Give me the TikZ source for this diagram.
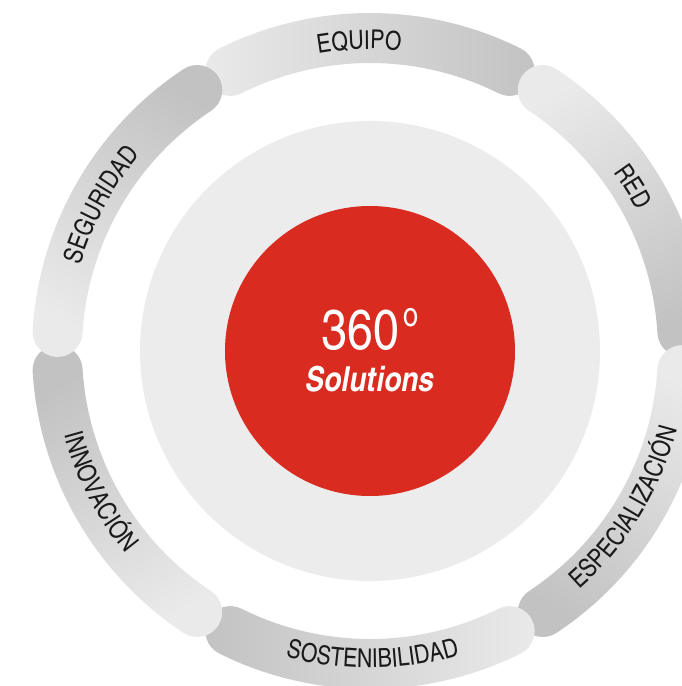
\documentclass[tikz,border=0pt]{standalone}
\usepackage{fontspec}
\usepackage{tikz}
\usetikzlibrary{
	decorations.text,
	positioning,
}

\newfontfamily\heroscn{texgyreheroscn}[
	Extension=.otf,
	UprightFont=*-regular,
	BoldFont=*-bold,
	ItalicFont=*-italic,
	BoldItalicFont=*-bolditalic]
\newcommand{\bandfont}{\heroscn\fontsize{18.5}{20}\selectfont}

\definecolor{corered}{HTML}{D92B1F}
\definecolor{halogray}{HTML}{ECECEC}
\definecolor{bandlight}{HTML}{EAEAEA}
\definecolor{banddark}{HTML}{C2C2C2}
\definecolor{bandtext}{HTML}{1A1A1A}

\begin{document}
\begin{tikzpicture}[
	x=0.25mm, y=0.25mm,
	band/.style={top color=bandlight, bottom color=banddark, shading angle=#1},
	bandlabel/.style={decorate, decoration={text along path, text align=center,
		text color=bandtext, text={|\bandfont|#1}}},
	disc/.style={circle, inner sep=0pt, draw=none},
	]
	\useasboundingbox (-370,-335) rectangle (311,351);

	%% outer ring
	\foreach \a in {90,30,-30,-90,-150,150}{
		\shade[band=\a]
			(\a+26.5:338) arc[start angle=\a+26.5, end angle=\a-26.5, radius=338]
			arc[start angle=\a-26.5, end angle=\a-206.5, radius=25]
			arc[start angle=\a-26.5, end angle=\a+26.5, radius=288]
			arc[start angle=\a+206.5, end angle=\a+26.5, radius=25]
			-- cycle;
	}

	%% labels on the ring, upper half
	\path[bandlabel=SEGURIDAD] (178:302) arc[start angle=178, end angle=125, radius=302];
	\path[bandlabel=EQUIPO] (118.5:302) arc[start angle=118.5, end angle=65.5, radius=302];
	\path[bandlabel=RED] (58.5:302) arc[start angle=58.5, end angle=5.5, radius=302];

	%% labels on the ring, lower half
	\path[bandlabel=INNOVACIÓN] (181:317) arc[start angle=181, end angle=234, radius=317];
	\path[bandlabel=SOSTENIBILIDAD] (244:317) arc[start angle=244, end angle=297, radius=317];
	\path[bandlabel=ESPECIALIZACIÓN] (302:317) arc[start angle=302, end angle=355, radius=317];

	%% centre
	\node (halo) [disc, fill=halogray, minimum size=115mm] at (0,0) {};
	\node (core) [disc, fill=corered, minimum size=72.5mm] at (halo.center) {};
	\node (deg) [anchor=base, inner sep=0pt, text=white,
		font=\heroscn\fontsize{40}{40}\selectfont]
		at ([yshift=0.25mm]core.center) {360\hspace{1mm}\raisebox{5.75mm}{\fontsize{24}{24}\selectfont o}};
	\node (sol) [anchor=base, inner sep=0pt, text=white,
		font=\heroscn\bfseries\itshape\fontsize{24.5}{25}\selectfont]
		at ([yshift=-10.25mm]deg.base) {Solutions};

\end{tikzpicture}
\end{document}
